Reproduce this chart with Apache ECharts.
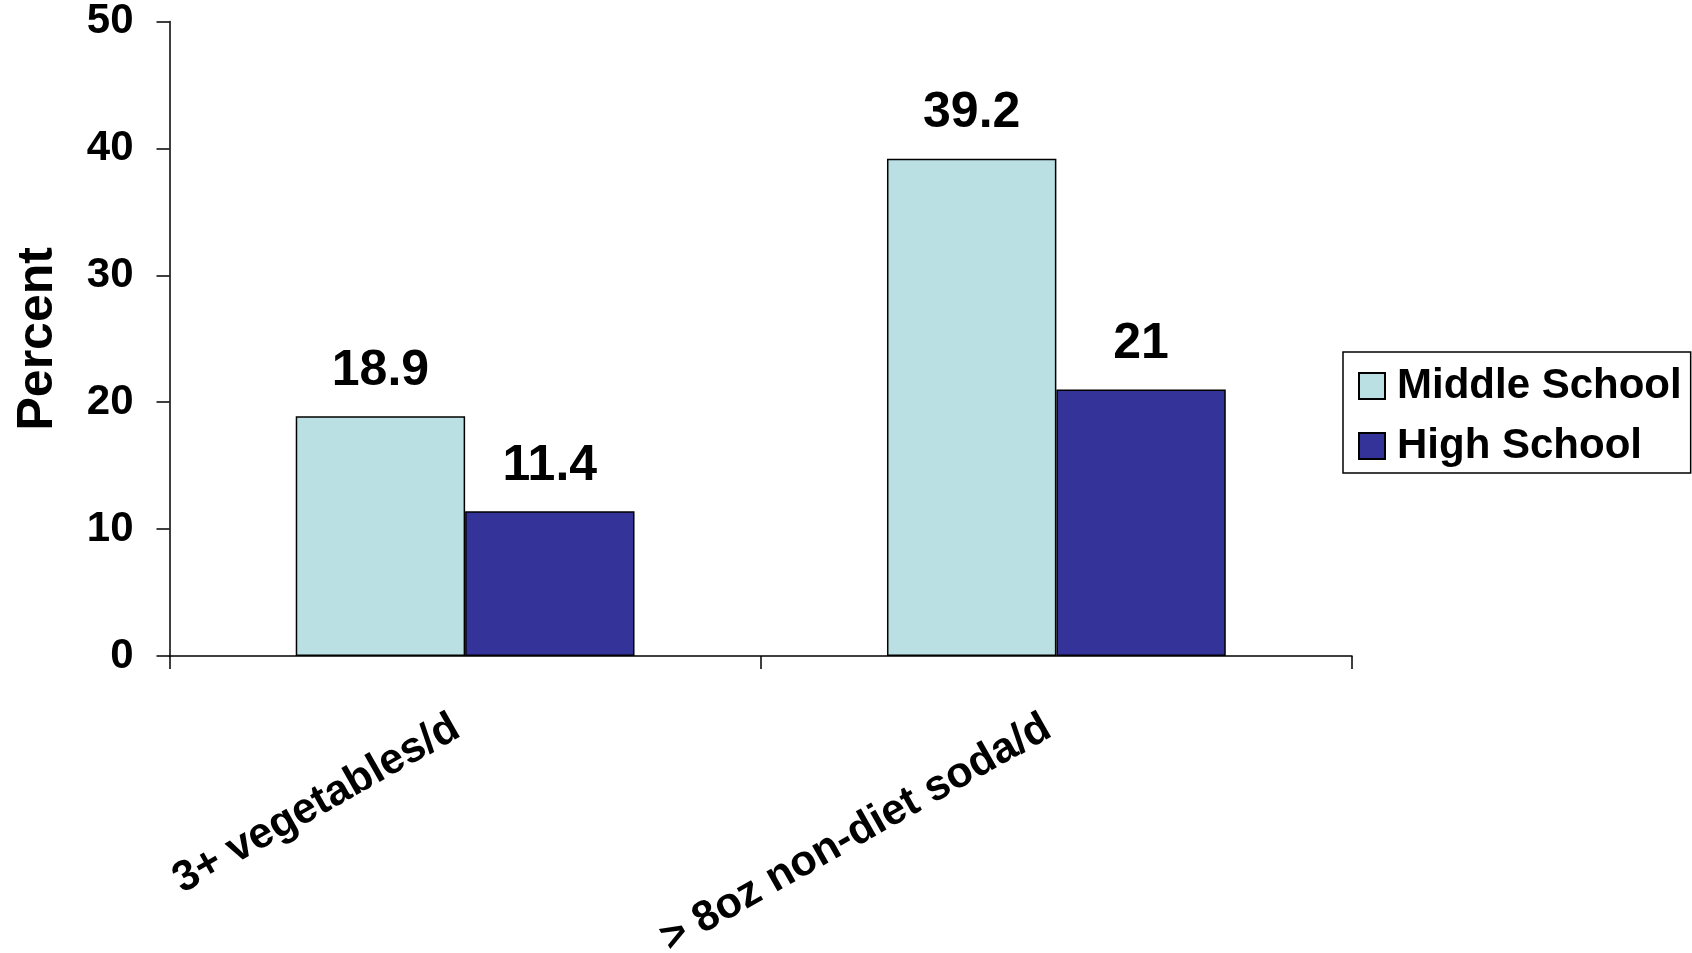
<!DOCTYPE html>
<html>
<head>
<meta charset="utf-8">
<script src="https://cdn.jsdelivr.net/npm/echarts@6/dist/echarts.min.js"></script>
<style>
  html, body { margin: 0; padding: 0; background: #fff; }
  #chart { width: 1692px; height: 953px; }
</style>
</head>
<body>
<div id="chart"></div>
<script>
// Share of students by school level for two daily diet behaviours
const categories = ['3+ vegetables/d', '> 8oz non-diet soda/d'];
const middleSchool = [18.9, 39.2];
const highSchool = [11.4, 21];
const yTicks = { min: 0, max: 50, interval: 10 };

const FONT = '"Liberation Sans", Arial, sans-serif';

const chart = echarts.init(document.getElementById('chart'), null, { renderer: 'canvas' });

const barLabel = {
  show: true,
  position: 'top',
  distance: 20,
  fontFamily: FONT,
  fontWeight: 'bold',
  fontSize: 50,
  color: '#000'
};

chart.setOption({
  animation: false,
  backgroundColor: '#ffffff',
  grid: { left: 169.5, right: 340, top: 21.6, bottom: 297, containLabel: false, outerBoundsMode: 'none' },
  legend: {
    orient: 'vertical',
    left: 1343,
    top: 352,
    padding: [13, 9, 6, 15],
    itemWidth: 26,
    itemHeight: 26,
    itemGap: 18,
    icon: 'rect',
    borderColor: '#000',
    borderWidth: 1.5,
    textStyle: { fontFamily: FONT, fontWeight: 'bold', fontSize: 42, color: '#000', lineHeight: 42, padding: [0, 0, 0, 7] },
    data: ['Middle School', 'High School']
  },
  xAxis: {
    type: 'category',
    data: categories,
    axisLine: { show: true, lineStyle: { color: '#000', width: 1.5 } },
    axisTick: { show: true, alignWithLabel: false, length: 13, lineStyle: { color: '#000', width: 1.5 } },
    axisLabel: {
      interval: 0,
      rotate: 29.5,
      margin: 64,
      padding: [0, 10, 0, 0],
      fontFamily: FONT,
      fontWeight: 'bold',
      fontSize: 43,
      color: '#000'
    },
    splitLine: { show: false }
  },
  yAxis: {
    type: 'value',
    min: yTicks.min,
    max: yTicks.max,
    interval: yTicks.interval,
    name: 'Percent',
    nameLocation: 'middle',
    nameRotate: 90,
    nameGap: 106,
    nameTextStyle: { fontFamily: FONT, fontWeight: 'bold', fontSize: 50, color: '#000' },
    axisLine: { show: true, lineStyle: { color: '#000', width: 1.5 } },
    axisTick: { show: true, inside: false, length: 13, lineStyle: { color: '#000', width: 1.5 } },
    axisLabel: { margin: 36, fontFamily: FONT, fontWeight: 'bold', fontSize: 42, color: '#000' },
    splitLine: { show: false }
  },
  series: [
    {
      name: 'Middle School',
      type: 'bar',
      data: middleSchool,
      barGap: '0%',
      barCategoryGap: '42.7%',
      itemStyle: { color: '#BBE0E3', borderColor: '#000', borderWidth: 1.5 },
      label: barLabel
    },
    {
      name: 'High School',
      type: 'bar',
      data: highSchool,
      barGap: '0%',
      barCategoryGap: '42.7%',
      itemStyle: { color: '#333399', borderColor: '#000', borderWidth: 1.5 },
      label: barLabel
    }
  ]
});
</script>
</body>
</html>
